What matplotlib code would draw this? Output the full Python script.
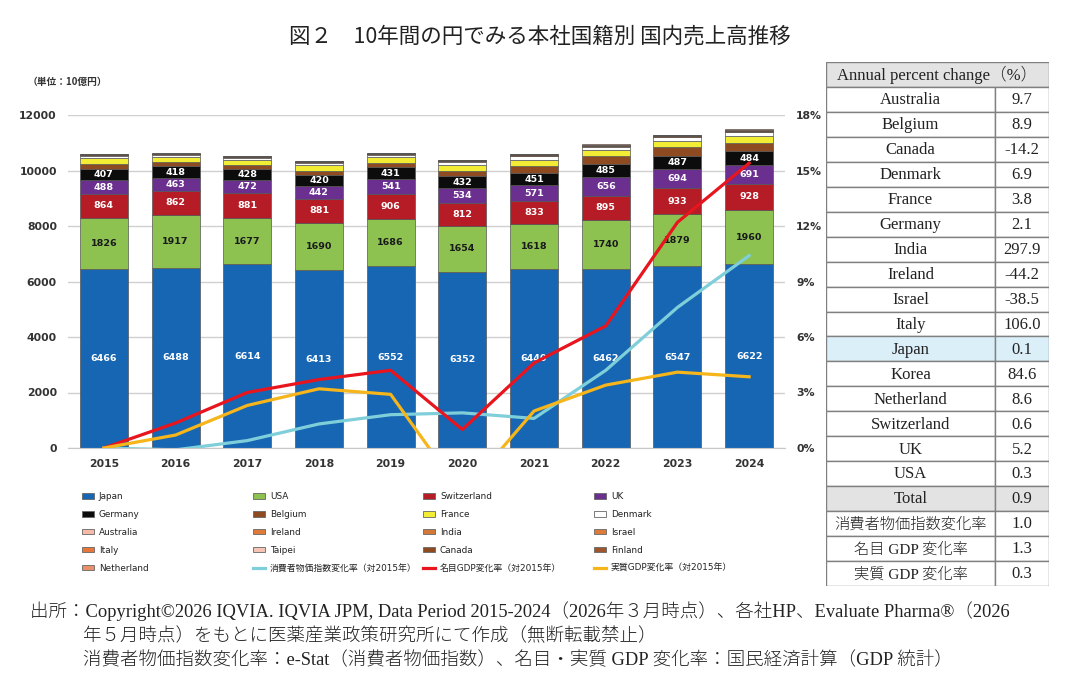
import matplotlib
matplotlib.use("Agg")
import matplotlib.pyplot as plt
from matplotlib.patches import Rectangle, Patch
from matplotlib.lines import Line2D
import numpy as np

plt.rcParams['font.family'] = ['Noto Sans CJK JP', 'DejaVu Sans']

years = ["2015", "2016", "2017", "2018", "2019", "2020", "2021", "2022", "2023", "2024"]

# 10億円, bottom to top
japan = [6466, 6488, 6614, 6413, 6552, 6352, 6440, 6462, 6547, 6622]
usa = [1826, 1917, 1677, 1690, 1686, 1654, 1618, 1740, 1879, 1960]
switzerland = [864, 862, 881, 881, 906, 812, 833, 895, 933, 928]
uk = [488, 463, 472, 442, 541, 534, 571, 656, 694, 691]
germany = [407, 418, 428, 420, 431, 432, 451, 485, 487, 484]
belgium = [170, 150, 110, 150, 150, 200, 250, 300, 290, 316]
france = [230, 200, 200, 200, 210, 220, 230, 200, 230, 239]
denmark = [80, 70, 80, 90, 100, 110, 120, 120, 130, 139]
australia = [12, 10, 12, 12, 12, 12, 14, 14, 16, 18]
ireland = [4, 4, 5, 6, 6, 6, 8, 8, 10, 6]
india = [1, 1, 1, 1, 1, 1, 2, 2, 3, 12]
israel = [3, 3, 3, 4, 4, 4, 5, 6, 8, 5]
italy = [2, 2, 2, 2, 2, 2, 3, 4, 5, 10]
taipei = [4, 4, 5, 5, 5, 5, 6, 6, 6, 7]
canada = [25, 18, 22, 25, 23, 22, 30, 30, 32, 28]
finland = [6, 5, 5, 6, 6, 6, 7, 8, 9, 10]
netherland = [7, 5, 5, 6, 6, 6, 7, 8, 11, 12]

# % change vs 2015
cpi = [0.0, -0.1, 0.4, 1.3, 1.8, 1.9, 1.6, 4.2, 7.6, 10.4]
nominal_gdp = [0.0, 1.35, 3.0, 3.7, 4.2, 1.0, 4.6, 6.6, 12.2, 15.4]
real_gdp = [0.0, 0.7, 2.3, 3.2, 2.9, -2.5, 2.0, 3.4, 4.1, 3.85]

tbl_names = ["Australia", "Belgium", "Canada", "Denmark", "France", "Germany", "India",
             "Ireland", "Israel", "Italy", "Japan", "Korea", "Netherland", "Switzerland",
             "UK", "USA", "Total", "消費者物価指数変化率", "名目 GDP 変化率", "実質 GDP 変化率"]
tbl_values = ["9.7", "8.9", "-14.2", "6.9", "3.8", "2.1", "297.9", "-44.2", "-38.5", "106.0",
              "0.1", "84.6", "8.6", "0.6", "5.2", "0.3", "0.9", "1.0", "1.3", "0.3"]

series = [
    ("Japan", japan, "#1766b3"),
    ("USA", usa, "#8dc251"),
    ("Switzerland", switzerland, "#b51c25"),
    ("UK", uk, "#6a2f8f"),
    ("Germany", germany, "#0c0c0c"),
    ("Belgium", belgium, "#8e4a20"),
    ("France", france, "#f3ec35"),
    ("Denmark", denmark, "#ffffff"),
    ("Australia", australia, "#f4bca8"),
    ("Ireland", ireland, "#e07a38"),
    ("India", india, "#d27838"),
    ("Israel", israel, "#e07a38"),
    ("Italy", italy, "#e8763a"),
    ("Taipei", taipei, "#f6c4b4"),
    ("Canada", canada, "#8e4a20"),
    ("Finland", finland, "#a0562c"),
    ("Netherland", netherland, "#e8906a"),
]

fig = plt.figure(figsize=(10.74, 7.0), dpi=100)
ax = fig.add_axes([68 / 1074, 1 - 448 / 700, (785 - 68) / 1074, (448 - 115) / 700])
x = np.arange(len(years))
bottom = np.zeros(len(years))
conts = {}
handles = {}
for name, vals, col in series:
    c = ax.bar(x, vals, 0.67, bottom=bottom, color=col, edgecolor="#555555", linewidth=0.5, zorder=2)
    conts[name] = c
    handles[name] = Patch(facecolor=col, edgecolor="#666666", linewidth=0.6)
    bottom += np.array(vals)

lab_style = dict(label_type="center", fontsize=6.8, fontweight="bold", family="DejaVu Sans")
ax.bar_label(conts["Japan"], labels=[str(v) for v in japan], color="white", **lab_style)
ax.bar_label(conts["USA"], labels=[str(v) for v in usa], color="#1a1a1a", **lab_style)
ax.bar_label(conts["Switzerland"], labels=[str(v) for v in switzerland], color="white", **lab_style)
ax.bar_label(conts["UK"], labels=[str(v) for v in uk], color="white", **lab_style)
ax.bar_label(conts["Germany"], labels=[str(v) for v in germany], color="white", **lab_style)

ax.set_xlim(-0.5, 9.5)
ax.set_ylim(0, 12000)
ax.set_yticks(range(0, 12001, 2000))
ax.set_xticks(x)
ax.set_xticklabels(years)
ax.grid(axis="y", color="#d0d0d0", linewidth=1.0, zorder=0)
ax.set_axisbelow(True)
for s in ["top", "right", "left"]:
    ax.spines[s].set_visible(False)
ax.spines["bottom"].set_color("#c8c8c8")
ax.tick_params(length=0, pad=8, labelsize=7.8, labelcolor="#333333")
for t in ax.get_xticklabels() + ax.get_yticklabels():
    t.set_fontweight("bold")
    t.set_family("DejaVu Sans")

ax2 = ax.twinx()
ax2.set_ylim(0, 18)
ax2.set_yticks(range(0, 19, 3))
ax2.set_yticklabels([f"{v}%" for v in range(0, 19, 3)])
for s in ax2.spines.values():
    s.set_visible(False)
ax2.tick_params(length=0, pad=8, labelsize=7.8, labelcolor="#333333")
for t in ax2.get_yticklabels():
    t.set_fontweight("bold")
    t.set_family("DejaVu Sans")
ax2.plot(x, cpi, color="#7fcfda", linewidth=2.3)
ax2.plot(x, nominal_gdp, color="#e8141e", linewidth=2.3)
ax2.plot(x, real_gdp, color="#f5b51b", linewidth=2.3)

fig.text(28 / 1074, 1 - 82 / 700, "（単位：10億円）", fontsize=7, fontweight="bold",
         color="#333333", va="center")

fig.text(540 / 1074, 1 - 37 / 700, "図２　10年間の円でみる本社国籍別 国内売上高推移",
         fontsize=15.5, ha="center", va="center", color="#222222")

# legend, 4 columns placed by hand
line_h = {
    "消費者物価指数変化率（対2015年）": Line2D([], [], color="#7fcfda", linewidth=2.3),
    "名目GDP変化率（対2015年）": Line2D([], [], color="#e8141e", linewidth=2.3),
    "実質GDP変化率（対2015年）": Line2D([], [], color="#f5b51b", linewidth=2.3),
}
cols = [
    ["Japan", "Germany", "Australia", "Italy", "Netherland"],
    ["USA", "Belgium", "Ireland", "Taipei", "消費者物価指数変化率（対2015年）"],
    ["Switzerland", "France", "India", "Canada", "名目GDP変化率（対2015年）"],
    ["UK", "Denmark", "Israel", "Finland", "実質GDP変化率（対2015年）"],
]
col_x = [82, 253, 423, 594]
for cx, names in zip(col_x, cols):
    hs = [handles[n] if n in handles else line_h[n] for n in names]
    leg = fig.legend(hs, names, loc="upper left", bbox_to_anchor=(cx / 1074, 1 - 492 / 700),
                     frameon=False, handlelength=1.3, handleheight=0.6,
                     handletextpad=0.6, labelspacing=1.0, borderaxespad=0, borderpad=0,
                     prop={"family": ["DejaVu Sans", "Noto Sans CJK JP"], "size": 6.4})
    for t in leg.get_texts():
        t.set_color("#222222")

# table on the right
tx0, tx1, ty0, ty1 = 826, 1049, 62, 586
tax = fig.add_axes([tx0 / 1074, 1 - ty1 / 700, (tx1 - tx0) / 1074, (ty1 - ty0) / 700])
nrows = len(tbl_names) + 1
tax.set_xlim(tx0, tx1)
tax.set_ylim(nrows, 0)
tax.axis("off")
split = 995
tfont = ["Liberation Serif", "Noto Sans CJK JP"]
edge = "#808080"
tax.add_patch(Rectangle((tx0, 0), tx1 - tx0, 1, facecolor="#e3e3e3", edgecolor=edge, linewidth=1))
tax.text((tx0 + tx1) / 2, 0.52, "Annual percent change（%）", ha="center", va="center",
         fontsize=12, family=tfont, color="#222222", fontweight="light")
for i, (nm, val) in enumerate(zip(tbl_names, tbl_values)):
    r = i + 1
    fc = "white"
    if nm == "Japan":
        fc = "#dbeff9"
    elif nm == "Total":
        fc = "#e3e3e3"
    fs = 11 if any(ord(ch) > 0x3000 for ch in nm) else 12
    tax.add_patch(Rectangle((tx0, r), split - tx0, 1, facecolor=fc, edgecolor=edge, linewidth=1))
    tax.add_patch(Rectangle((split, r), tx1 - split, 1, facecolor=fc, edgecolor=edge, linewidth=1))
    tax.text((tx0 + split) / 2, r + 0.53, nm, ha="center", va="center", fontsize=fs,
             family=tfont, color="#222222", fontweight="light")
    tax.text((split + tx1) / 2, r + 0.53, val, ha="center", va="center", fontsize=12,
             family=tfont, color="#222222", fontweight="light")

foot = ["出所：Copyright©2026 IQVIA. IQVIA JPM, Data Period 2015-2024（2026年３月時点）、各社HP、Evaluate Pharma®（2026",
        "年５月時点）をもとに医薬産業政策研究所にて作成（無断転載禁止）",
        "消費者物価指数変化率：e-Stat（消費者物価指数）、名目・実質 GDP 変化率：国民経済計算（GDP 統計）"]
for i, (fx, line) in enumerate(zip([30, 83, 83], foot)):
    fig.text(fx / 1074, 1 - (611 + 25 * i) / 700, line, fontsize=13.3, family=tfont,
             va="center", color="#222222", fontweight="light")

fig.savefig("out.png", dpi=100)
